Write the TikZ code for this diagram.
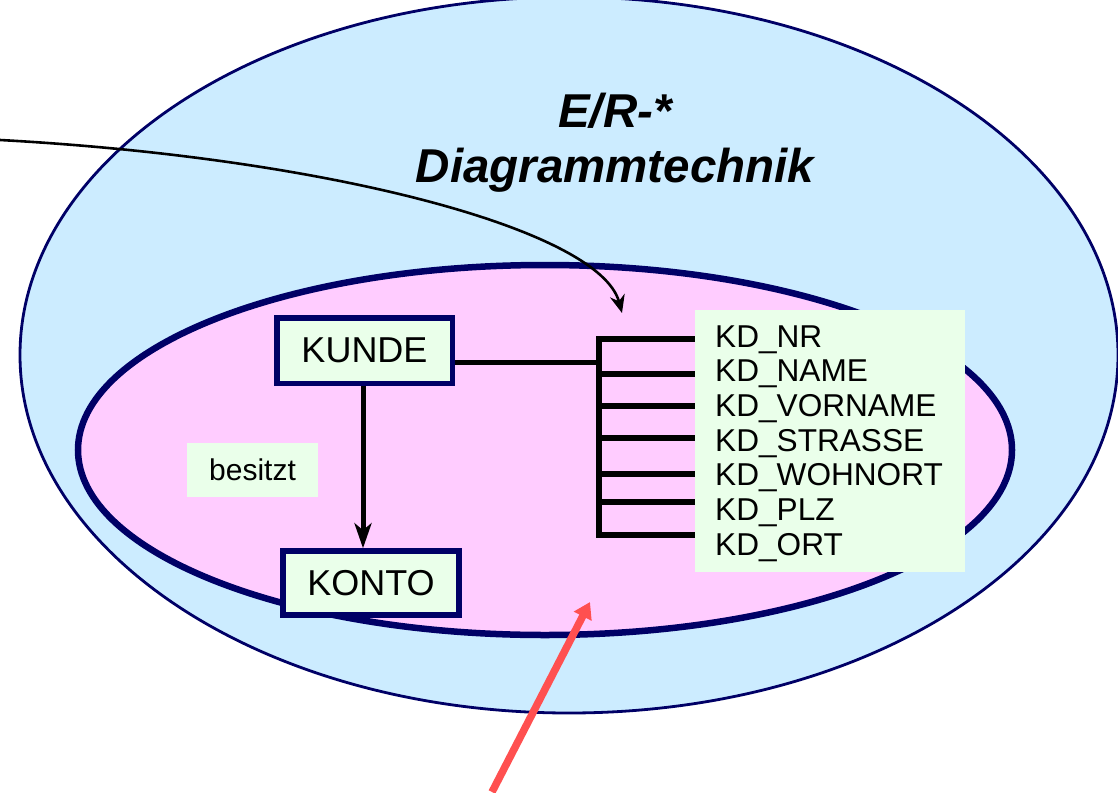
\documentclass[tikz,border=0pt]{standalone}
\usepackage{fontspec}
\setmainfont{Liberation Sans}
\usetikzlibrary{arrows.meta}
\definecolor{outerblue}{HTML}{CCECFF}
\definecolor{innerpink}{HTML}{FFCCFF}
\definecolor{navy}{HTML}{000066}
\definecolor{boxgreen}{HTML}{EAFFEA}
\definecolor{redarrow}{HTML}{FF5050}
\tikzset{
  entitybox/.style={draw=navy, line width=5.5pt, fill=boxgreen, inner sep=0pt,
    font=\fontsize{36}{40}\selectfont},
  attrtext/.style={anchor=base west, inner sep=0pt, font=\fontsize{31.6}{34}\selectfont},
  bracketline/.style={line width=5.5pt, line cap=butt},
}
\begin{document}
\begin{tikzpicture}[x=1pt,y=-1pt]
\useasboundingbox (0,0) rectangle (1118,792);
% ellipses
\draw[navy, line width=2.8pt, fill=outerblue] (569,355) ellipse [x radius=549, y radius=358];
\draw[navy, line width=6.5pt, fill=innerpink] (545,450) ellipse [x radius=467, y radius=185];
% title
\node[anchor=base, inner sep=0pt, font=\fontsize{47.5}{55}\selectfont\bfseries\itshape] (t1) at (615,127) {E/R-*};
\node[anchor=base, inner sep=0pt, font=\fontsize{47.5}{55}\selectfont\bfseries\itshape] (t2) at (615,182) {Diagrammtechnik};
% bracket
\coordinate (btop) at (599,336);
\coordinate (bbot) at (599,538);
\draw[bracketline] (btop) -- (bbot);
\foreach \yy in {339,374,406,438,474,502,535}{
  \draw[bracketline] (597,\yy) -- (697,\yy);
}
% attribute box
\node[fill=boxgreen, inner sep=0pt, minimum width=270pt, minimum height=262pt] (attr) at (830,441) {};
\node[attrtext] (a1) at (715,347) {KD\_NR};
\node[attrtext] (a2) at (715,381.7) {KD\_NAME};
\node[attrtext] (a3) at (715,416.3) {KD\_VORNAME};
\node[attrtext] (a4) at (715,451) {KD\_STRASSE};
\node[attrtext] (a5) at (715,485.7) {KD\_WOHNORT};
\node[attrtext] (a6) at (715,520.3) {KD\_PLZ};
\node[attrtext] (a7) at (715,555) {KD\_ORT};
% entities
\node[entitybox, minimum width=175.5pt, minimum height=65.5pt] (kunde) at (364.5,350.5) {KUNDE};
\node[entitybox, minimum width=176pt, minimum height=64pt] (konto) at (371,583) {KONTO};
% besitzt
\node[fill=boxgreen, inner sep=0pt, minimum width=131pt, minimum height=54pt,
  font=\fontsize{30}{34}\selectfont] (bes) at (252.5,470) {besitzt};
% connectors
\coordinate (kj) at (599,362);
\draw[line width=5pt] (kj -| kunde.east) -- (kj);
\draw[line width=5pt, -{Stealth[length=25pt, width=17pt, inset=7pt]}] (kunde.south -| 363,0) -- (konto.north -| 363,0);
\coordinate (cstart) at (0,140);
\coordinate (ctip) at (622,313);
\draw[line width=2.6pt, -{Stealth[length=18pt, width=15pt]}] (cstart) .. controls (330,158) and (600,230) .. (ctip);
\coordinate (rstart) at (492,792);
\coordinate (rtip) at (590,602);
\draw[redarrow, line width=7.5pt, -{Triangle[length=16pt, width=19pt]}] (rstart) -- (rtip);
\end{tikzpicture}
\end{document}
